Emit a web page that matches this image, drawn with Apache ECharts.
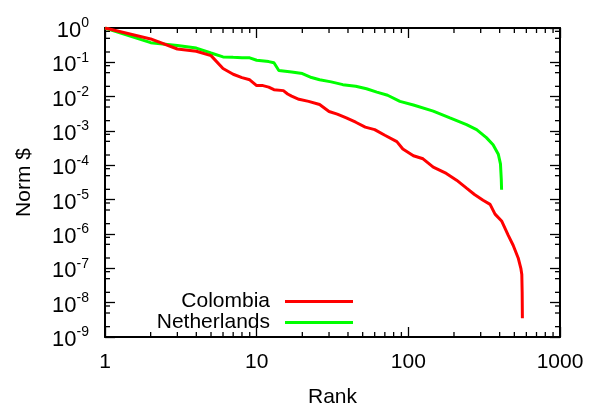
<!DOCTYPE html>
<html>
<head>
<meta charset="utf-8">
<script src="https://cdn.jsdelivr.net/npm/echarts@6/dist/echarts.min.js"></script>
<style>
html,body{margin:0;padding:0;background:#fff;}
#main{width:590px;height:413px;}
</style>
</head>
<body>
<div id="main"></div>
<script>
// ---- data ----
const seriesNames = ['Colombia', 'Netherlands'];
const colombiaRank = [1,2,3,4,5,6,7,8,9,10,11,12,13,15,16,17,19,22,26,30,34,39,45,52,60,70,84,92,108,125,146,178,208,242,273,311,346,373,412,456,491,530,552,560,563,565];
const colombiaVal = [1.0,0.48,0.245,0.21,0.157,0.066,0.045,0.036,0.031,0.021,0.021,0.019,0.016,0.015,0.012,0.0104,0.0084,0.0073,0.0059,0.0037,0.0031,0.0024,0.0018,0.0013,0.0011,0.00075,0.00049,0.0003,0.00019,0.000155,0.000089,0.000058,0.000037,0.0000216,0.0000141,0.0000096,0.0000073,0.0000038,0.0000024,9.1e-7,4.7e-7,2.0e-7,1.0e-7,6.6e-8,2e-8,3.5e-9];
const netherlandsRank = [1,2,3,4,5,6,7,8,9,10,12,13,14,17,20,23,26,31,37,45,53,62,73,88,108,146,188,242,282,327,362,392,405,410,412];
const netherlandsVal = [1.0,0.374,0.308,0.26,0.187,0.144,0.14,0.137,0.135,0.115,0.105,0.097,0.058,0.052,0.047,0.036,0.031,0.027,0.0224,0.020,0.017,0.0136,0.011,0.0073,0.0057,0.0038,0.0024,0.00153,0.0011,0.00064,0.0004,0.00021,0.00011,0.00004,0.0000195];
const xMajorTicks = [1, 10, 100, 1000];
const yExponents = [0,-1,-2,-3,-4,-5,-6,-7,-8,-9];
const xMinorMultipliers = [2,3,4,5,6,7,8,9];
const yMinorMultipliers = [2,5,8];

const X_MIN = 1, X_MAX = 1000, Y_MIN = 1e-9, Y_MAX = 1;
const FONT = 'Liberation Sans, Arial, sans-serif';

function pairs(xs, ys){ return xs.map((x,i)=>[x, ys[i]]); }

// minor tick positions (axis values)
const xMinor = [];
for (const d of [1,10,100]) for (const m of xMinorMultipliers) xMinor.push(d*m);
const yMinor = [];
for (const e of yExponents.slice(1)) for (const m of yMinorMultipliers) yMinor.push(m*Math.pow(10,e));

const chart = echarts.init(document.getElementById('main'), null, {renderer:'canvas'});

const axisCommon = {
  type: 'log', logBase: 10,
  axisLine: {show:true, onZero:false, lineStyle:{color:'#000', width:2}},
  axisTick: {show:true, inside:true, length:10, lineStyle:{color:'#000', width:1.3}},
  splitLine: {show:false},
  minorTick: {show:false},
};

const option = {
  animation: false,
  backgroundColor: '#fff',
  grid: {left:105, right:30, top:28, bottom:69, containLabel:false},
  legend: {
    data: seriesNames,
    orient: 'vertical',
    align: 'right',
    right: 232, top: 286,
    icon: 'rect',
    itemWidth: 68, itemHeight: 3,
    itemGap: 0,
    textStyle: {fontSize: 21, fontFamily: FONT, color:'#000', padding:[0,10,0,0], lineHeight: 19},
  },
  xAxis: [
    Object.assign({}, axisCommon, {
      position:'bottom', min:X_MIN, max:X_MAX, splitNumber:3,
      name:'Rank', nameLocation:'middle', nameGap:50,
      nameTextStyle:{fontSize:21, fontFamily:FONT, color:'#000'},
      axisLabel:{show:true, margin:15, fontSize:21, fontFamily:FONT, color:'#000',
        formatter: v => String(Math.round(v))},
    }),
    Object.assign({}, axisCommon, {
      position:'top', min:X_MIN, max:X_MAX, splitNumber:3,
      axisLabel:{show:false},
    }),
  ],
  yAxis: [
    Object.assign({}, axisCommon, {
      position:'left', min:Y_MIN, max:Y_MAX, splitNumber:9,
      name:'Norm $', nameLocation:'middle', nameGap:70, nameRotate:90,
      nameTextStyle:{fontSize:21, fontFamily:FONT, color:'#000'},
      axisLabel:{show:true, margin:16, color:'#000', fontFamily:FONT,
        formatter: v => '{b|10}{s|' + Math.round(Math.log10(v)) + '}',
        rich:{
          b:{fontSize:22, fontFamily:FONT, color:'#000', padding:[6,0,0,0]},
          s:{fontSize:14, fontFamily:FONT, color:'#000', padding:[0,0,9,0]},
        }},
    }),
    Object.assign({}, axisCommon, {
      position:'right', min:Y_MIN, max:Y_MAX, splitNumber:9,
      axisLabel:{show:false},
    }),
  ],
  series: [
    {
      name: seriesNames[0], type:'line', xAxisIndex:0, yAxisIndex:0,
      data: pairs(colombiaRank, colombiaVal),
      showSymbol:false, symbol:'none', smooth:false,
      lineStyle:{color:'#ff0000', width:3}, itemStyle:{color:'#ff0000'}, z:3,
    },
    {
      name: seriesNames[1], type:'line', xAxisIndex:0, yAxisIndex:0,
      data: pairs(netherlandsRank, netherlandsVal),
      showSymbol:false, symbol:'none', smooth:false,
      lineStyle:{color:'#00ff00', width:3}, itemStyle:{color:'#00ff00'}, z:2,
    },
    {
      name:'xMinor', type:'custom', xAxisIndex:0, yAxisIndex:0, silent:true, clip:false,
      data: xMinor.map(v=>[v, Y_MIN]),
      renderItem: function(params, api){
        const b = api.coord([api.value(0), Y_MIN]);
        const t = api.coord([api.value(0), Y_MAX]);
        const st = {stroke:'#000', lineWidth:1.3};
        return {type:'group', children:[
          {type:'line', shape:{x1:b[0], y1:b[1], x2:b[0], y2:b[1]-5}, style:st},
          {type:'line', shape:{x1:t[0], y1:t[1], x2:t[0], y2:t[1]+5}, style:st},
        ]};
      }, z:1,
    },
    {
      name:'yMinor', type:'custom', xAxisIndex:0, yAxisIndex:0, silent:true, clip:false,
      data: yMinor.map(v=>[X_MIN, v]),
      renderItem: function(params, api){
        const l = api.coord([X_MIN, api.value(1)]);
        const r = api.coord([X_MAX, api.value(1)]);
        const st = {stroke:'#000', lineWidth:1.3};
        return {type:'group', children:[
          {type:'line', shape:{x1:l[0], y1:l[1], x2:l[0]+5, y2:l[1]}, style:st},
          {type:'line', shape:{x1:r[0], y1:r[1], x2:r[0]-5, y2:r[1]}, style:st},
        ]};
      }, z:1,
    },
  ],
};
chart.setOption(option);
</script>
</body>
</html>
